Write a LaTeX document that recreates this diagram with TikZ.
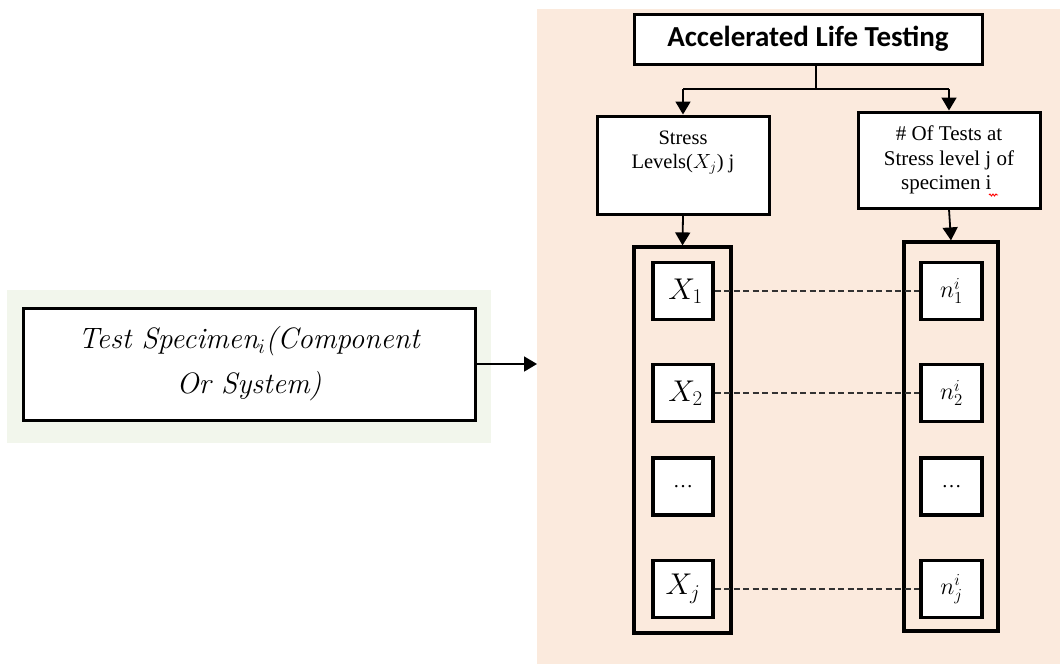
\RequirePackage{fix-cm}
\documentclass[tikz,border=0pt]{standalone}
\usepackage{fontspec}
\setmainfont{Liberation Serif}
\newfontfamily\headfont{Carlito}
\newfontfamily\specfont{Latin Modern Roman}
\usetikzlibrary{arrows.meta,decorations.pathmorphing}
\definecolor{peach}{HTML}{FBEADD}
\definecolor{sage}{HTML}{F2F6EC}
\begin{document}
\begin{tikzpicture}[x=1pt,y=-1pt,
  box/.style={draw=black,fill=white,line width=3pt,inner sep=0pt,align=center},
  column/.style={draw=black,line width=3.2pt,inner sep=0pt},
  cell/.style={draw=black,fill=white,line width=3.2pt,inner sep=0pt,minimum height=57pt},
  arr/.style={line width=1.8pt,-{Triangle[length=13pt,width=15pt]}},
  link/.style={line width=1.8pt},
  guide/.style={line width=1.4pt,draw=black!80,dash pattern=on 6pt off 3.5pt}]
\useasboundingbox (0,0) rectangle (1060,664);
% background panels
\fill[peach] (537,9) rectangle (1060,664);
\fill[sage] (7,290) rectangle (491,443);

% specimen box on the left
\node[box,minimum width=452pt,minimum height=112pt,font=\fontsize{29.5}{45}\selectfont\specfont\itshape]
  (spec) at (249,364) {Test Specimen$_i$(Component\\Or System)};
\coordinate (entry) at (537,364);
\draw[arr] (spec.east) -- (entry);

% heading
\node[box,minimum width=348pt,minimum height=50pt,font=\fontsize{29}{32}\selectfont\headfont\bfseries]
  (alt) at (808,39) {Accelerated Life Testing};
\node[box,minimum width=172pt,minimum height=98pt,font=\fontsize{20.5}{24}\selectfont]
  (stress) at (683,165) {Stress\\Levels($X_j$) j\\\strut};
\node[box,minimum width=182pt,minimum height=96pt,font=\fontsize{21}{24.5}\selectfont]
  (tests) at (949,160) {\# Of Tests at\\Stress level j of\\specimen i\phantom{,}};
\draw[red,line width=0.9pt,decoration={snake,amplitude=1pt,segment length=3pt},decorate]
  (989,195) -- (998,195);

\coordinate (jn) at (816,89);
\draw[link] (alt.south -| jn) -- (jn);
\draw[link] (jn) -- (jn -| stress);
\draw[link] (jn) -- (jn -| tests);
\draw[arr] (jn -| stress) -- (stress.north);
\draw[arr] (jn -| tests) -- (tests.north);

% columns
\node[column,minimum width=97pt,minimum height=386pt] (lcol) at (682.5,440) {};
\node[column,minimum width=94pt,minimum height=389pt] (rcol) at (951,436.5) {};
\draw[arr] (stress.south) -- (lcol.north);
\draw[arr] (tests.south) -- (rcol.north);

% stress-level cells
\node[cell,minimum width=60pt,font=\fontsize{30}{32}\selectfont] (x1) at (683,291) {\,$X_1$};
\node[cell,minimum width=60pt,font=\fontsize{30}{32}\selectfont] (x2) at (683,393) {\,$X_2$};
\node[cell,minimum width=60pt,font=\fontsize{20}{24}\selectfont] (xd) at (683,486.5) {…};
\node[cell,minimum width=60pt,font=\fontsize{30}{32}\selectfont] (xj) at (683,589) {$X_j$};

% test-count cells
\node[cell,minimum width=61pt,font=\fontsize{24}{26}\selectfont] (n1) at (951.5,291) {$n_1^i$};
\node[cell,minimum width=61pt,font=\fontsize{24}{26}\selectfont] (n2) at (951.5,393) {$n_2^i$};
\node[cell,minimum width=61pt,font=\fontsize{20}{24}\selectfont] (nd) at (951.5,486.5) {…};
\node[cell,minimum width=61pt,font=\fontsize{24}{26}\selectfont] (nj) at (951.5,589) {$n_j^i$};

% pairing guides
\draw[guide] (x1.east) -- (n1.west);
\draw[guide] (x2.east) -- (n2.west);
\draw[guide] (xj.east) -- (nj.west);
\end{tikzpicture}
\end{document}
